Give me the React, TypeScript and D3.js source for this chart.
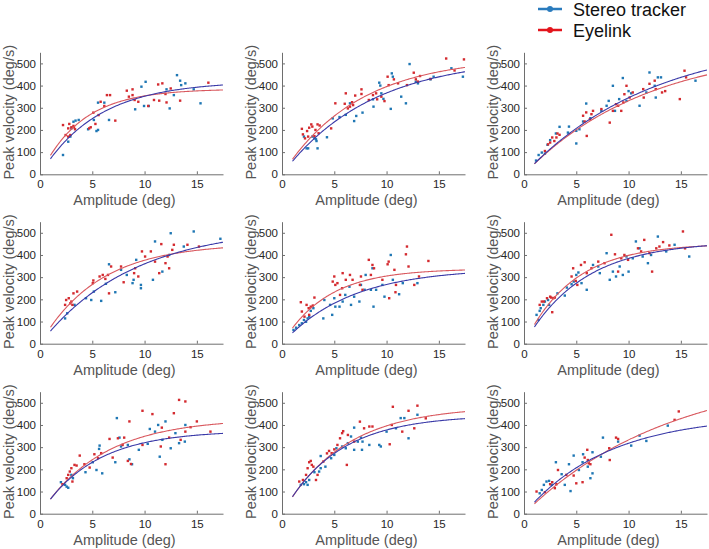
import React, { useEffect, useRef } from "react";
import * as d3 from "d3";

// ---------- data (amplitude deg, peak velocity deg/s) ----------
const xTicks = [0, 5, 10, 15];
const yTicks = [0, 100, 200, 300, 400, 500];
const seriesNames = ["Stereo tracker", "Eyelink"];

const p1Stereo = [[2.2,87],[2.7,147],[2.9,170],[3.0,207],[3.2,237],[3.4,242],[3.7,245],[4.6,203],[5.15,245],[5.4,195],[5.55,200],[5.55,323],[6.15,323],[6.6,245],[9.1,293],[9.7,395],[9.95,308],[10.1,417],[10.4,308],[12.1,383],[12.4,297],[12.8,357],[13.1,447],[13.4,422],[13.5,402],[13.9,410],[14.7,383],[15.35,320]];
const p1Eyelink = [[2.2,222],[2.45,177],[2.7,207],[2.8,227],[2.7,170],[2.9,177],[3.0,212],[3.2,218],[3.25,212],[3.35,203],[4.7,207],[4.85,212],[5.1,278],[5.3,227],[5.6,267],[5.8,327],[6.15,308],[6.4,357],[6.7,357],[7.2,242],[8.3,377],[8.5,350],[8.85,383],[8.85,357],[9.05,335],[9.4,327],[10.35,308],[10.9,335],[11.3,405],[11.4,332],[11.7,410],[12.0,362],[12.1,324],[12.5,387],[13.4,332],[16.1,413]];

const p2Stereo = [[2.1,170],[2.35,117],[2.5,117],[2.9,170],[3.1,162],[3.25,158],[3.4,117],[3.3,150],[4.3,167],[4.85,252],[5.5,258],[6.1,268],[6.5,320],[6.9,240],[7.1,263],[7.7,278],[8.7,338],[8.75,305],[9.3,413],[9.4,400],[9.5,365],[9.7,340],[10.4,295],[10.5,455],[10.6,440],[11.4,350],[11.85,320],[12.2,497],[12.8,417],[13.0,410],[14.5,440],[14.2,428],[16.2,478],[17.3,440]];
const p2Eyelink = [[1.9,205],[2.0,180],[2.2,162],[2.4,195],[2.5,170],[2.6,210],[2.8,225],[2.9,215],[3.1,172],[3.2,200],[3.4,225],[3.6,220],[3.5,185],[4.7,207],[5.1,320],[6.0,318],[6.1,365],[6.3,297],[6.5,305],[6.7,325],[6.8,312],[7.0,355],[7.6,383],[7.6,362],[8.3,335],[8.7,357],[9.0,365],[9.1,338],[9.5,350],[9.8,330],[10.1,440],[10.2,402],[10.7,428],[11.1,410],[11.95,402],[12.6,458],[12.8,428],[13.2,443],[13.0,418],[14.2,430],[15.7,522],[16.5,468],[17.4,518]];

const p3Stereo = [[1.15,62],[1.4,87],[1.7,98],[2.0,93],[2.25,133],[2.5,154],[3.05,184],[3.4,214],[4.2,188],[4.3,215],[5.0,139],[5.0,196],[5.3,203],[5.65,238],[5.95,319],[6.35,253],[7.4,286],[7.9,309],[8.1,331],[8.5,399],[8.7,286],[9.1,339],[9.45,434],[9.8,331],[10.0,375],[10.25,365],[11.05,309],[11.7,369],[12.0,459],[12.5,399],[12.8,437],[13.1,437],[12.6,346],[16.4,422]];
const p3Eyelink = [[2.0,105],[2.3,135],[2.5,143],[2.7,166],[2.9,150],[3.1,166],[3.2,184],[3.4,178],[5.65,264],[5.8,238],[5.95,279],[6.0,173],[6.3,248],[6.45,271],[6.6,286],[7.4,294],[8.2,233],[8.5,286],[8.8,316],[9.0,309],[9.3,286],[9.5,324],[9.6,361],[9.8,399],[10.1,346],[10.4,369],[11.4,384],[11.45,346],[12.0,408],[12.5,422],[12.6,384],[13.2,369],[13.5,375],[14.9,339],[15.35,467],[15.5,437]];

const p4Stereo = [[2.4,114],[2.6,137],[3.3,175],[4.4,205],[4.9,197],[5.15,235],[5.85,193],[6.3,270],[6.6,358],[7.2,232],[7.75,333],[8.3,310],[8.85,273],[8.95,288],[9.65,250],[9.65,265],[9.2,378],[10.8,288],[11.0,461],[11.7,325],[12.35,400],[12.5,498],[13.75,438],[14.7,506],[17.25,473]];
const p4Eyelink = [[2.4,175],[2.5,197],[2.75,205],[2.9,182],[3.0,190],[3.1,175],[3.2,227],[3.55,235],[5.05,273],[5.1,285],[5.7,303],[6.0,310],[6.25,292],[6.5,310],[6.6,227],[6.8,348],[7.75,348],[8.0,277],[9.0,318],[9.1,340],[9.4,303],[9.75,416],[10.05,393],[10.6,416],[11.0,370],[11.4,318],[11.6,449],[12.0,363],[12.2,393],[12.35,340],[12.65,423],[12.8,446],[14.1,446],[15.2,438]];

const p5Stereo = [[1.1,62],[1.35,72],[1.65,84],[1.9,92],[2.1,107],[2.3,99],[2.45,114],[2.6,122],[2.75,148],[3.0,160],[3.95,114],[4.05,197],[4.6,175],[4.8,130],[5.0,205],[5.1,167],[5.5,167],[5.8,190],[6.05,220],[6.45,257],[6.6,175],[6.9,212],[7.4,190],[7.55,265],[7.9,243],[8.0,310],[8.5,243],[8.65,340],[8.75,167],[9.0,243],[9.6,265],[9.8,212],[10.4,400],[10.6,288],[11.2,223],[11.55,273],[12.95,273]];
const p5Eyelink = [[1.8,187],[1.9,145],[2.15,122],[2.35,175],[2.55,160],[2.6,130],[2.75,167],[2.95,172],[3.1,208],[4.85,280],[5.0,303],[5.1,265],[5.3,273],[5.55,220],[5.8,318],[5.75,250],[6.1,288],[6.5,310],[6.75,288],[7.45,265],[7.55,303],[7.7,243],[8.3,378],[8.5,310],[8.65,355],[8.8,340],[9.6,288],[10.1,358],[10.2,370],[10.25,205],[10.75,333],[10.85,232],[10.9,265],[11.85,403],[11.95,438],[12.1,348],[12.65,265],[13.1,303],[14.0,373]];

const p6Stereo = [[1.2,130],[1.37,107],[1.5,148],[1.6,160],[1.85,175],[2.0,190],[2.3,197],[2.4,175],[3.2,227],[3.9,217],[4.1,253],[4.55,268],[4.75,280],[5.0,310],[5.2,321],[5.5,273],[6.0,243],[6.6,355],[7.1,348],[7.25,318],[7.9,408],[8.2,288],[8.5,325],[8.8,303],[9.15,348],[9.45,310],[9.8,393],[10.0,325],[10.4,385],[10.7,461],[11.05,430],[11.35,393],[11.85,363],[12.15,400],[12.8,483],[13.6,416],[14.4,446],[15.8,393]];
const p6Eyelink = [[1.5,175],[1.7,190],[1.9,190],[2.2,205],[2.5,212],[2.6,208],[2.8,205],[2.95,208],[2.7,142],[4.55,303],[4.7,340],[4.95,283],[5.1,265],[5.45,355],[5.8,367],[6.0,318],[6.45,340],[7.1,370],[7.7,363],[8.35,491],[8.7,403],[9.0,325],[9.3,385],[9.6,400],[9.95,378],[10.9,430],[11.2,416],[11.5,468],[12.0,408],[12.25,325],[12.65,430],[12.95,438],[13.3,458],[13.9,443],[15.2,506],[15.4,430]];

const p7Stereo = [[2.0,142],[2.4,130],[2.55,122],[2.7,117],[3.0,175],[3.15,160],[4.35,187],[5.05,232],[5.4,197],[5.65,292],[5.7,307],[5.95,182],[7.2,232],[7.35,431],[7.6,343],[7.75,303],[8.4,310],[8.55,245],[8.8,223],[9.45,288],[10.3,315],[10.5,382],[11.0,370],[11.3,400],[11.45,257],[11.7,333],[12.0,416],[12.5,295],[12.95,363],[13.3,318],[13.85,325],[13.9,400]];
const p7Eyelink = [[2.15,133],[2.55,160],[2.7,175],[2.85,190],[3.0,205],[3.1,145],[3.3,220],[3.5,217],[3.8,262],[4.25,223],[4.75,208],[5.2,268],[5.55,250],[5.85,273],[6.65,337],[6.95,253],[7.45,340],[7.9,310],[8.05,343],[8.55,416],[8.4,238],[8.7,224],[9.8,464],[9.8,310],[10.75,449],[11.55,303],[11.65,388],[12.0,223],[12.35,343],[12.8,453],[13.3,513],[13.45,333],[13.9,506],[13.9,370],[14.4,390],[15.0,416],[16.3,370]];

const p8Stereo = [[1.8,130],[2.1,133],[2.3,142],[2.45,130],[2.6,152],[3.1,187],[3.55,190],[3.7,205],[3.7,260],[4.15,212],[4.7,250],[5.0,265],[5.2,295],[5.75,303],[6.1,295],[6.3,318],[6.6,348],[6.9,288],[6.9,388],[7.25,325],[7.55,343],[7.65,288],[7.7,325],[8.35,310],[9.3,310],[9.45,303],[10.0,370],[10.9,385],[11.35,431],[11.7,431],[12.1,340],[12.95,446]];
const p8Eyelink = [[1.65,145],[2.0,152],[2.3,175],[2.45,205],[2.6,232],[2.75,238],[2.85,220],[3.0,212],[3.25,152],[3.4,175],[3.95,235],[4.3,272],[4.5,283],[4.75,273],[5.0,290],[5.3,310],[5.55,340],[5.75,363],[5.85,372],[6.2,220],[6.3,355],[6.9,325],[7.45,415],[7.85,385],[8.35,393],[8.65,393],[10.3,313],[10.5,400],[10.6,482],[11.5,370],[12.1,464],[12.65,385],[12.95,487],[13.75,430]];

const p9Stereo = [[1.5,92],[1.7,107],[1.9,130],[2.15,145],[2.4,148],[2.65,130],[3.05,232],[3.6,178],[3.9,130],[4.3,223],[4.45,102],[4.75,262],[5.25,197],[5.6,232],[5.65,268],[6.1,212],[6.35,160],[6.55,182],[6.55,277],[7.35,257],[7.55,343],[9.0,325],[10.25,307],[11.05,352],[11.7,328],[13.75,397]];
const p9Eyelink = [[1.2,100],[2.0,97],[2.5,133],[2.7,142],[2.95,115],[3.1,133],[3.25,197],[4.05,175],[4.75,172],[5.0,137],[5.6,142],[5.8,253],[6.05,288],[6.1,242],[6.2,227],[6.35,223],[8.15,295],[8.2,242],[8.8,343],[9.0,337],[14.4,423],[14.8,461]];

const stereoPoints = [p1Stereo, p2Stereo, p3Stereo, p4Stereo, p5Stereo, p6Stereo, p7Stereo, p8Stereo, p9Stereo];
const eyelinkPoints = [p1Eyelink, p2Eyelink, p3Eyelink, p4Eyelink, p5Eyelink, p6Eyelink, p7Eyelink, p8Eyelink, p9Eyelink];

// exponential fit parameters [Vmax, C] for V = Vmax * (1 - exp(-A / C))
const stereoFits = [[420,5.5],[530,8.5],[620,12.3],[530,8.8],[340,6.5],[462,5.6],[375,5.2],[445,5.3],[445,8]];
const eyelinkFits = [[385,4],[530,7.3],[580,11.8],[452,5.6],[338,4.3],[452,4.7],[430,6],[485,5.9],[652,14]];

// ---------- styling ----------
const STEREO_DOT = "#1f77b4";
const EYELINK_DOT = "#d42a2f";
const STEREO_CURVE = "#3a3aa8";
const EYELINK_CURVE = "#d9595f";
const LEG_BLUE = "#2a7bbd";
const LEG_RED = "#e3141c";
const FONT = "Arial, 'Liberation Sans', Helvetica, sans-serif";

const colX = [40, 282, 524];
const rowY = [174.3, 343.7, 513.7];
const PW = 183;
const PH = 122;

export default function App() {
  const ref = useRef<SVGSVGElement | null>(null);

  useEffect(() => {
    const svg = d3.select(ref.current);
    svg.selectAll("*").remove();

    for (let i = 0; i < 9; i++) {
      const x0 = colX[i % 3];
      const y0 = rowY[Math.floor(i / 3)];
      const x = d3.scaleLinear().domain([0, 17.5]).range([x0, x0 + PW]);
      const y = d3.scaleLinear().domain([0, 550]).range([y0, y0 - PH]);
      const g = svg.append("g");

      // axes
      const xAxis = d3.axisBottom(x).tickValues(xTicks).tickSize(-3).tickPadding(6).tickSizeOuter(0);
      const yAxis = d3.axisLeft(y).tickValues(yTicks).tickSize(-3).tickPadding(4).tickSizeOuter(0);
      const gx = g.append("g").attr("transform", `translate(0,${y0})`).call(xAxis);
      const gy = g.append("g").attr("transform", `translate(${x0},0)`).call(yAxis);
      [gx, gy].forEach((a) => {
        a.select(".domain").attr("stroke", "#6e6e6e").attr("stroke-width", 1);
        a.selectAll(".tick line").attr("stroke", "#6e6e6e");
        a.selectAll(".tick text").attr("fill", "#262626").attr("font-size", 11.5).attr("font-family", FONT);
      });

      // points
      const drawPts = (pts: number[][], color: string) => {
        g.append("g")
          .selectAll("rect")
          .data(pts)
          .join("rect")
          .attr("x", (d) => x(d[0]) - 1.2)
          .attr("y", (d) => y(d[1]) - 1.2)
          .attr("width", 2.4)
          .attr("height", 2.4)
          .attr("fill", color);
      };
      drawPts(stereoPoints[i], STEREO_DOT);
      drawPts(eyelinkPoints[i], EYELINK_DOT);

      // fitted curves
      const amps = d3.range(1, 17.5001, 0.1);
      const drawFit = (fit: number[], color: string) => {
        const line = d3
          .line<number>()
          .x((a) => x(a))
          .y((a) => y(fit[0] * (1 - Math.exp(-a / fit[1]))));
        g.append("path").attr("d", line(amps)).attr("fill", "none").attr("stroke", color).attr("stroke-width", 1.1);
      };
      drawFit(eyelinkFits[i], EYELINK_CURVE);
      drawFit(stereoFits[i], STEREO_CURVE);

      // labels
      g.append("text")
        .attr("x", x0 + 84.5)
        .attr("y", y0 + 31)
        .attr("text-anchor", "middle")
        .attr("font-size", 14.5)
        .attr("font-family", FONT)
        .attr("fill", "#555")
        .text("Amplitude (deg)");
      g.append("text")
        .attr("transform", `translate(${x0 - 26},${y0 - 62}) rotate(-90)`)
        .attr("text-anchor", "middle")
        .attr("font-size", 14.5)
        .attr("font-family", FONT)
        .attr("fill", "#555")
        .text("Peak velocity (deg/s)");
    }

    // legend
    const leg = svg.append("g");
    [LEG_BLUE, LEG_RED].forEach((c, k) => {
      const ly = 9 + k * 21;
      leg.append("line").attr("x1", 538).attr("x2", 562).attr("y1", ly).attr("y2", ly).attr("stroke", c).attr("stroke-width", 2.5);
      leg.append("circle").attr("cx", 550).attr("cy", ly).attr("r", 3).attr("fill", c);
      leg.append("text")
        .attr("x", 573)
        .attr("y", ly + 6.5)
        .attr("font-size", 18)
        .attr("font-family", FONT)
        .attr("fill", "#111")
        .text(seriesNames[k]);
    });
  }, []);

  return (
    <svg
      ref={ref}
      width={709}
      height={549}
      style={{ position: "absolute", left: 0, top: 0, background: "#fff" }}
    />
  );
}
